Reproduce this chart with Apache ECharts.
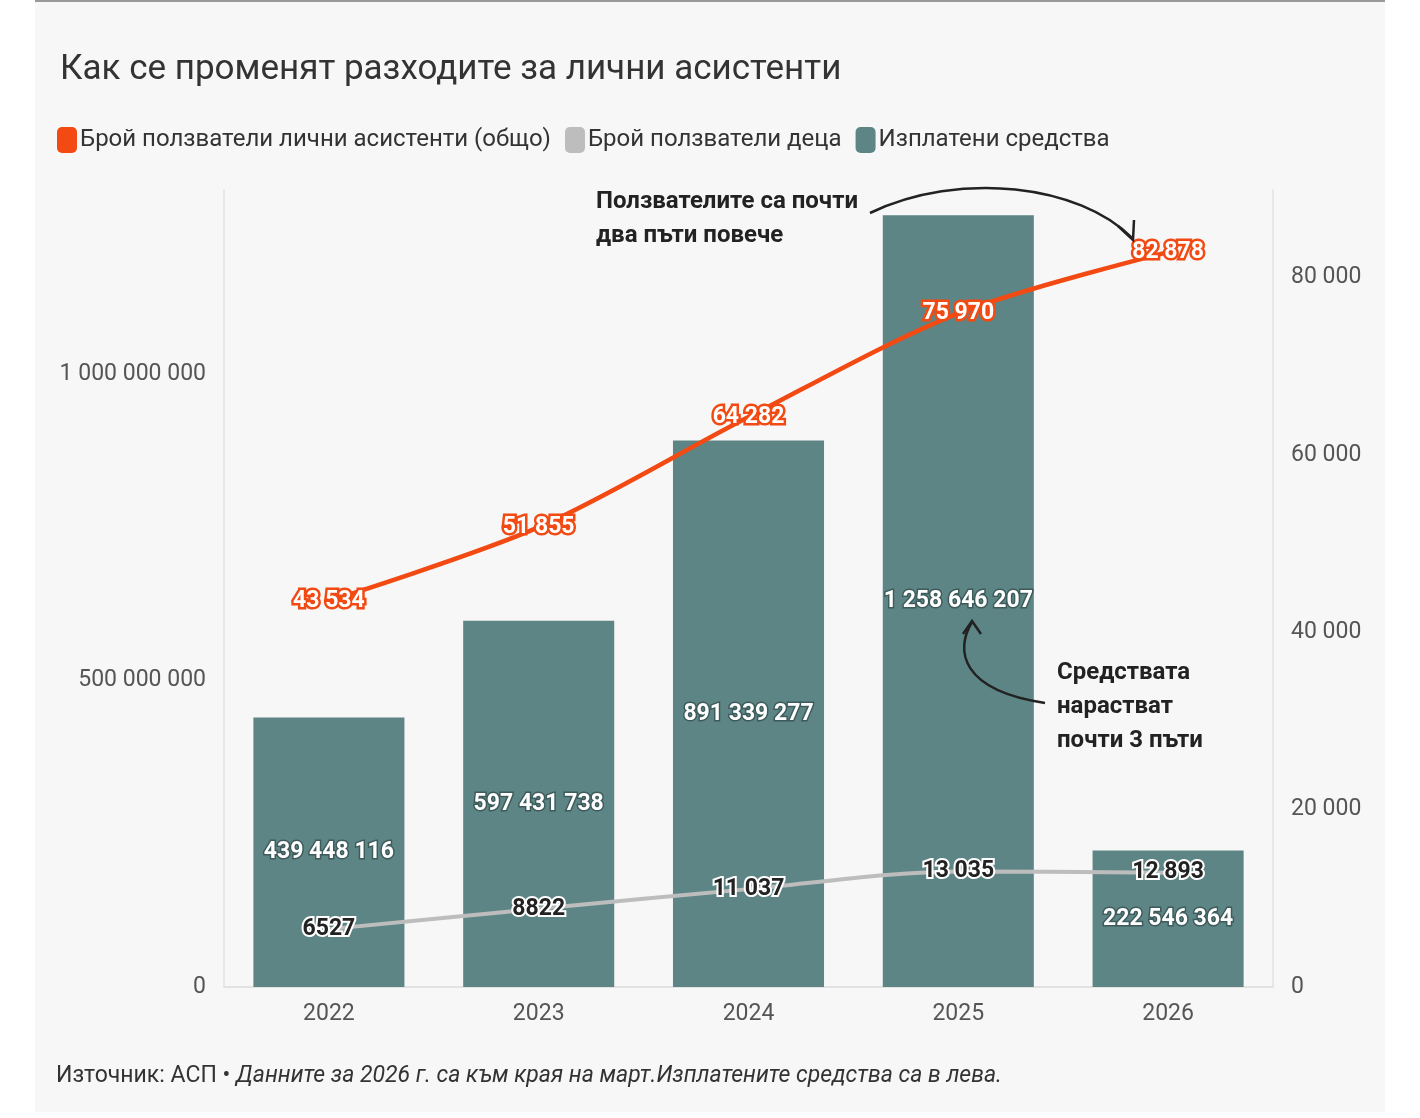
<!DOCTYPE html>
<html><head><meta charset="utf-8">
<script src="https://cdn.jsdelivr.net/npm/echarts@6/dist/echarts.min.js"></script>
<style>
html,body{margin:0;padding:0;background:#fff}
#wrap{position:absolute;left:35px;top:0;width:1350px;height:1110px;background:#f7f7f7;border-top:2px solid #999}
#main{position:absolute;left:0;top:0;width:1420px;height:1118px}
</style></head><body>
<div id="wrap"></div>
<div id="main"></div>
<script>
var years = ["2022", "2023", "2024", "2025", "2026"];
var paid = [439448116, 597431738, 891339277, 1258646207, 222546364];
var usersTotal = [43534, 51855, 64282, 75970, 82878];
var usersKids = [6527, 8822, 11037, 13035, 12893];
var leftTicks = [0, 500000000, 1000000000];
var rightTicks = [0, 20000, 40000, 60000, 80000];

function fmt(v, always) {
  if (!always && v < 10000) return String(v);
  return String(v).replace(/\B(?=(\d{3})+(?!\d))/g, " ");
}
var narrow = "'Liberation Sans Narrow', 'Roboto', sans-serif";
var chart = echarts.init(document.getElementById("main"), null, { renderer: "canvas" });
chart.setOption({
  animation: false,
  title: {
    text: "Как се променят разходите за лични асистенти",
    left: 55, top: 48,
    textStyle: { fontFamily: "Roboto", fontSize: 35, fontWeight: "normal", color: "#333" }
  },
  legend: {
    left: 52, top: 122, itemWidth: 20, itemHeight: 26, itemGap: 14,
    icon: "roundRect",
    textStyle: { fontFamily: "Roboto", fontSize: 24, color: "#333", padding: [0, 0, 0, -2] },
    data: ["Брой ползватели лични асистенти (общо)", "Брой ползватели деца", "Изплатени средства"]
  },
  grid: { left: 224, right: 147, top: 190, bottom: 131 },
  xAxis: {
    type: "category", data: years,
    axisLine: { lineStyle: { color: "#e2e2e2", width: 2 } },
    axisTick: { show: false },
    axisLabel: { fontFamily: "Roboto", fontSize: 23, color: "#555", margin: 16 }
  },
  yAxis: [{
    type: "value", min: 0, max: 1300000000, interval: 500000000,
    axisLine: { show: true, lineStyle: { color: "#e8e8e8", width: 2 } },
    splitLine: { show: false },
    axisLabel: { fontFamily: "Roboto", fontSize: 23, color: "#555", margin: 18,
      formatter: function (v) { return leftTicks.indexOf(v) >= 0 ? fmt(v, true) : ""; } }
  }, {
    type: "value", min: 0, max: 89880, interval: 20000,
    axisLine: { show: true, lineStyle: { color: "#e8e8e8", width: 2 } },
    splitLine: { show: false },
    axisLabel: { fontFamily: "Roboto", fontSize: 23, color: "#555", margin: 18,
      formatter: function (v) { return rightTicks.indexOf(v) >= 0 ? fmt(v, true) : ""; } }
  }],
  series: [{
    name: "Брой ползватели лични асистенти (общо)", type: "line", yAxisIndex: 1,
    data: usersTotal, smooth: 0.3, symbol: "circle", symbolSize: 1, z: 5,
    itemStyle: { color: "#f24a12" }, lineStyle: { color: "#f24a12", width: 4.5 },
    label: { show: true, position: "inside", formatter: function (p) { return fmt(p.value); },
      fontFamily: narrow, fontWeight: "bold", fontSize: 23, color: "#fff",
      textBorderColor: "#f24a12", textBorderWidth: 5 }
  }, {
    name: "Брой ползватели деца", type: "line", yAxisIndex: 1,
    data: usersKids, smooth: 0.3, symbol: "circle", symbolSize: 1, z: 5,
    itemStyle: { color: "#bdbdbd" }, lineStyle: { color: "#bdbdbd", width: 4 },
    label: { show: true, position: "inside", formatter: function (p) { return fmt(p.value); },
      fontFamily: narrow, fontWeight: "bold", fontSize: 23, color: "#222",
      textBorderColor: "#fff", textBorderWidth: 4 }
  }, {
    name: "Изплатени средства", type: "bar", yAxisIndex: 0,
    data: paid, barWidth: "72%", z: 2,
    itemStyle: { color: "#5e8585" },
    label: { show: true, position: "inside", formatter: function (p) { return fmt(p.value, true); },
      fontFamily: narrow, fontWeight: "bold", fontSize: 23, color: "#fff",
      textBorderColor: "#3d5b5b", textBorderWidth: 3 }
  }],
  graphic: [
    { type: "text", right: 562, top: 185, z: 20, style: { text: "Ползвателите са почти\nдва пъти повече",
      align: "right", font: "bold 24px " + narrow, fill: "#222", lineHeight: 34 } },
    { type: "text", left: 1057, top: 656, z: 20, style: { text: "Средствата\nнарастват\nпочти 3 пъти",
      font: "bold 24px " + narrow, fill: "#222", lineHeight: 34 } },
    { type: "bezierCurve", z: 20, shape: { x1: 870, y1: 213, cpx1: 960, cpy1: 170, x2: 1132, y2: 238, cpx2: 1080, cpy2: 185 },
      style: { stroke: "#222", lineWidth: 2.5, fill: null } },
    { type: "polyline", z: 20, shape: { points: [[1118, 226], [1133, 240], [1134, 220]] },
      style: { stroke: "#222", lineWidth: 2.5, fill: null } },
    { type: "bezierCurve", z: 20, shape: { x1: 1045, y1: 703, cpx1: 960, cpy1: 690, x2: 972, y2: 622, cpx2: 955, cpy2: 650 },
      style: { stroke: "#222", lineWidth: 2.5, fill: null } },
    { type: "polyline", z: 20, shape: { points: [[963, 634], [972, 621], [981, 634]] },
      style: { stroke: "#222", lineWidth: 2.5, fill: null } },
    { type: "text", left: 56, top: 1065, z: 20, style: {
      text: "{a|Източник: АСП • }{b|Данните за 2026 г. са към края на март.Изплатените средства са в лева.}",
      rich: { a: { fontFamily: "Roboto", fontSize: 23, fill: "#333" },
              b: { fontFamily: "Roboto", fontSize: 23, fontStyle: "italic", fill: "#333" } } } }
  ]
});
</script>
</body></html>
